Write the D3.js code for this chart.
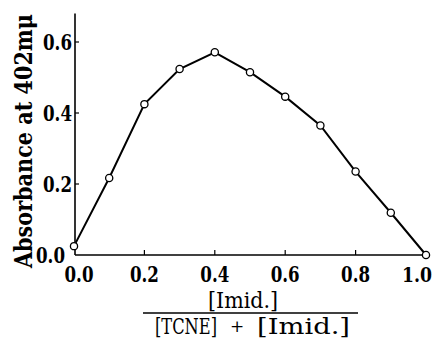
<!DOCTYPE html>
<html><head><meta charset="utf-8">
<script src="https://cdn.jsdelivr.net/npm/d3@7"></script>
<style>
svg text.sf { font-family: "DejaVu Serif" !important; }
</style>
</head>
<body style="margin:0;background:#fff">
<svg id="c" width="438" height="340" style="display:block"></svg>
<script>
const xValues = [0.0, 0.1, 0.2, 0.3, 0.4, 0.5, 0.6, 0.7, 0.8, 0.9, 1.0];
const absorbance = [0.025, 0.217, 0.425, 0.524, 0.571, 0.515, 0.446, 0.365, 0.235, 0.119, 0.0];
const xTicks = [0.0, 0.2, 0.4, 0.6, 0.8, 1.0];
const xTickLabels = ["0.0", "0.2", "0.4", "0.6", "0.8", "1.0"];
const yTicks = [0.0, 0.2, 0.4, 0.6];
const yTickLabels = ["0.0", "0.2", "0.4", "0.6"];
const yTitle = "Absorbance  at  402mμ";
const xNumerator = "[Imid.]";
const xDenomA = "[TCNE]";
const xDenomPlus = "+";
const xDenomB = "[Imid.]";

const svg = d3.select("#c");
const x = d3.scaleLinear().domain([0, 1]).range([74, 426]);
const y = d3.scaleLinear().domain([0, 0.68]).range([255, 13.6]);

const axisX = x(0) + 1;

svg.append("line").attr("x1", axisX).attr("x2", axisX).attr("y1", y(0.68)).attr("y2", y(0))
  .attr("stroke", "#000").attr("stroke-width", 1.6);
svg.append("line").attr("x1", axisX).attr("x2", x(1) + 3).attr("y1", y(0)).attr("y2", y(0))
  .attr("stroke", "#000").attr("stroke-width", 1.6);

svg.selectAll(".yt").data(yTicks.slice(1)).enter().append("line")
  .attr("x1", axisX).attr("x2", axisX + 4).attr("y1", d => y(d)).attr("y2", d => y(d))
  .attr("stroke", "#000").attr("stroke-width", 1.2);
svg.selectAll(".xt").data(xTicks.slice(1, -1)).enter().append("line")
  .attr("x1", d => x(d)).attr("x2", d => x(d)).attr("y1", y(0)).attr("y2", y(0) - 5)
  .attr("stroke", "#000").attr("stroke-width", 1.2);

const yDx = [-7, 0, 0, 0];
svg.selectAll(".yl").data(yTicks).enter().append("text").attr("class", "sf")
  .attr("x", (d, i) => axisX - 3 + yDx[i]).attr("y", d => y(d) + 8)
  .attr("text-anchor", "end").attr("font-size", 22).attr("font-weight", "bold")
  .attr("textLength", 29).attr("lengthAdjust", "spacingAndGlyphs")
  .text((d, i) => yTickLabels[i]);

const xDx = [5, 0, 0, 0, 0, -9];
svg.selectAll(".xl").data(xTicks).enter().append("text").attr("class", "sf")
  .attr("x", (d, i) => x(d) + xDx[i]).attr("y", 282)
  .attr("text-anchor", "middle").attr("font-size", (d, i) => i === 5 ? 21 : 22).attr("font-weight", "bold")
  .attr("textLength", (d, i) => i === 5 ? 30 : 29).attr("lengthAdjust", "spacingAndGlyphs")
  .text((d, i) => xTickLabels[i]);

svg.append("text").attr("class", "sf")
  .attr("transform", "translate(32,141) rotate(-90)")
  .attr("text-anchor", "middle").attr("font-size", 25).attr("font-weight", "bold")
  .attr("textLength", 254).attr("lengthAdjust", "spacingAndGlyphs")
  .text(yTitle);

svg.append("text").attr("class", "sf")
  .attr("x", 243).attr("y", 308).attr("text-anchor", "middle")
  .attr("font-size", 22).attr("textLength", 70).attr("lengthAdjust", "spacingAndGlyphs")
  .text(xNumerator);
svg.append("line").attr("x1", 143).attr("x2", 358).attr("y1", 313).attr("y2", 313)
  .attr("stroke", "#000").attr("stroke-width", 1.3);
svg.append("text").attr("class", "sf")
  .attr("x", 155).attr("y", 334).attr("font-size", 22)
  .attr("textLength", 62).attr("lengthAdjust", "spacingAndGlyphs").text(xDenomA);
svg.append("text").attr("class", "sf")
  .attr("x", 237).attr("y", 332).attr("text-anchor", "middle").attr("font-size", 17)
  .text(xDenomPlus);
svg.append("text").attr("class", "sf")
  .attr("x", 257).attr("y", 334).attr("font-size", 22)
  .attr("textLength", 93).attr("lengthAdjust", "spacingAndGlyphs").text(xDenomB);

const pts = xValues.map((d, i) => [d, absorbance[i]]);
svg.append("path").datum(pts)
  .attr("d", d3.line().x(d => x(d[0])).y(d => y(d[1])))
  .attr("fill", "none").attr("stroke", "#000").attr("stroke-width", 2);
svg.selectAll(".pt").data(pts).enter().append("circle")
  .attr("cx", d => x(d[0])).attr("cy", d => y(d[1])).attr("r", 3.6)
  .attr("fill", "#fff").attr("stroke", "#000").attr("stroke-width", 1.3);
</script>
</body></html>
